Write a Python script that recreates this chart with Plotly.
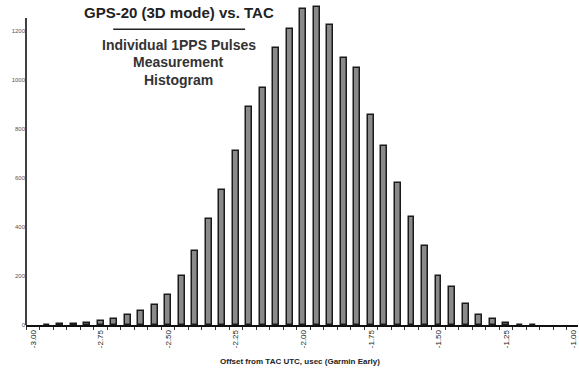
import plotly.graph_objects as go

# Bin centres (usec offset from TAC UTC) and pulse counts
offsets = [-2.95, -2.90, -2.85, -2.80, -2.75, -2.70, -2.65, -2.60, -2.55, -2.50,
           -2.45, -2.40, -2.35, -2.30, -2.25, -2.20, -2.15, -2.10, -2.05, -2.00,
           -1.95, -1.90, -1.85, -1.80, -1.75, -1.70, -1.65, -1.60, -1.55, -1.50,
           -1.45, -1.40, -1.35, -1.30, -1.25, -1.20, -1.15]
counts = [2, 3, 4, 10, 15, 25, 40, 57, 82, 121,
          200, 301, 431, 551, 710, 890, 967, 1131, 1208, 1290,
          1297, 1223, 1089, 1048, 857, 732, 578, 440, 324, 199,
          156, 87, 41, 24, 7, 2, 1]

x_ticks = [-3.00, -2.75, -2.50, -2.25, -2.00, -1.75, -1.50, -1.25, -1.00]
x_tick_labels = ["-3.00", "-2.75", "-2.50", "-2.25", "-2.00", "-1.75", "-1.50", "-1.25", "-1.00"]
y_ticks = [0, 200, 400, 600, 800, 1000, 1200]

title_text = "GPS-20 (3D mode) vs. TAC"
subtitle_lines = ["Individual 1PPS Pulses", "Measurement", "Histogram"]
x_title = "Offset from TAC UTC, usec (Garmin Early)"

fig = go.Figure()
fig.add_trace(go.Bar(
    x=offsets, y=counts, width=0.022,
    marker=dict(color="#8a8a8a", line=dict(color="#1a1a1a", width=1.5)),
    showlegend=False, cliponaxis=False,
))

font_main = "Liberation Sans, Arial, sans-serif"

fig.update_layout(
    width=579, height=369,
    margin=dict(l=26, r=1, t=5, b=44, autoexpand=False),
    paper_bgcolor="white", plot_bgcolor="white",
    bargap=0,
    font=dict(family=font_main, color="#222"),
    xaxis=dict(
        range=[-3.026, -0.984], automargin=False,
        tickmode="array", tickvals=x_ticks, ticktext=x_tick_labels,
        tickangle=-90, tickfont=dict(size=8, color="#222"),
        showgrid=False, zeroline=False,
        showline=True, linecolor="#111", linewidth=1.6,
        ticks="", ticklen=0,
        minor=dict(tickmode="linear", tick0=-3.025, dtick=0.05,
                   ticks="outside", ticklen=3, tickcolor="#333", tickwidth=1),
    ),
    yaxis=dict(
        range=[0, 1306], automargin=False,
        tickmode="array", tickvals=y_ticks,
        tickfont=dict(size=6, color="#555"),
        showgrid=False, zeroline=False, showline=False, ticks="",
    ),
)

# y axis line (ends below the tallest bars, as in the original)
fig.add_shape(type="line", xref="paper", yref="y", x0=0, x1=0, y0=0, y1=1253,
              line=dict(color="#111", width=1.6))

# Title block
cx = 0.277
fig.add_annotation(text="<b>" + title_text + "</b>", xref="paper", yref="paper",
                   x=cx, y=0.977, showarrow=False, xanchor="center", yanchor="middle",
                   font=dict(size=15, color="#222", family=font_main))
fig.add_shape(type="line", xref="paper", yref="paper", x0=0.158, x1=0.397,
              y0=0.924, y1=0.924, line=dict(color="#222", width=1.6))
for line_text, ypos in zip(subtitle_lines, [0.875, 0.822, 0.766]):
    fig.add_annotation(text="<b>" + line_text + "</b>", xref="paper", yref="paper",
                       x=cx, y=ypos, showarrow=False, xanchor="center", yanchor="middle",
                       font=dict(size=14, color="#333", family=font_main))

fig.add_annotation(text="<b>" + x_title + "</b>", xref="paper", yref="paper",
                   x=0.496, y=-0.1156, showarrow=False, xanchor="center", yanchor="middle",
                   font=dict(size=8, color="#222", family=font_main))

fig.write_html("out.html", config={"displayModeBar": False},
               post_script="document.body.style.margin='0';document.body.style.padding='0';")
